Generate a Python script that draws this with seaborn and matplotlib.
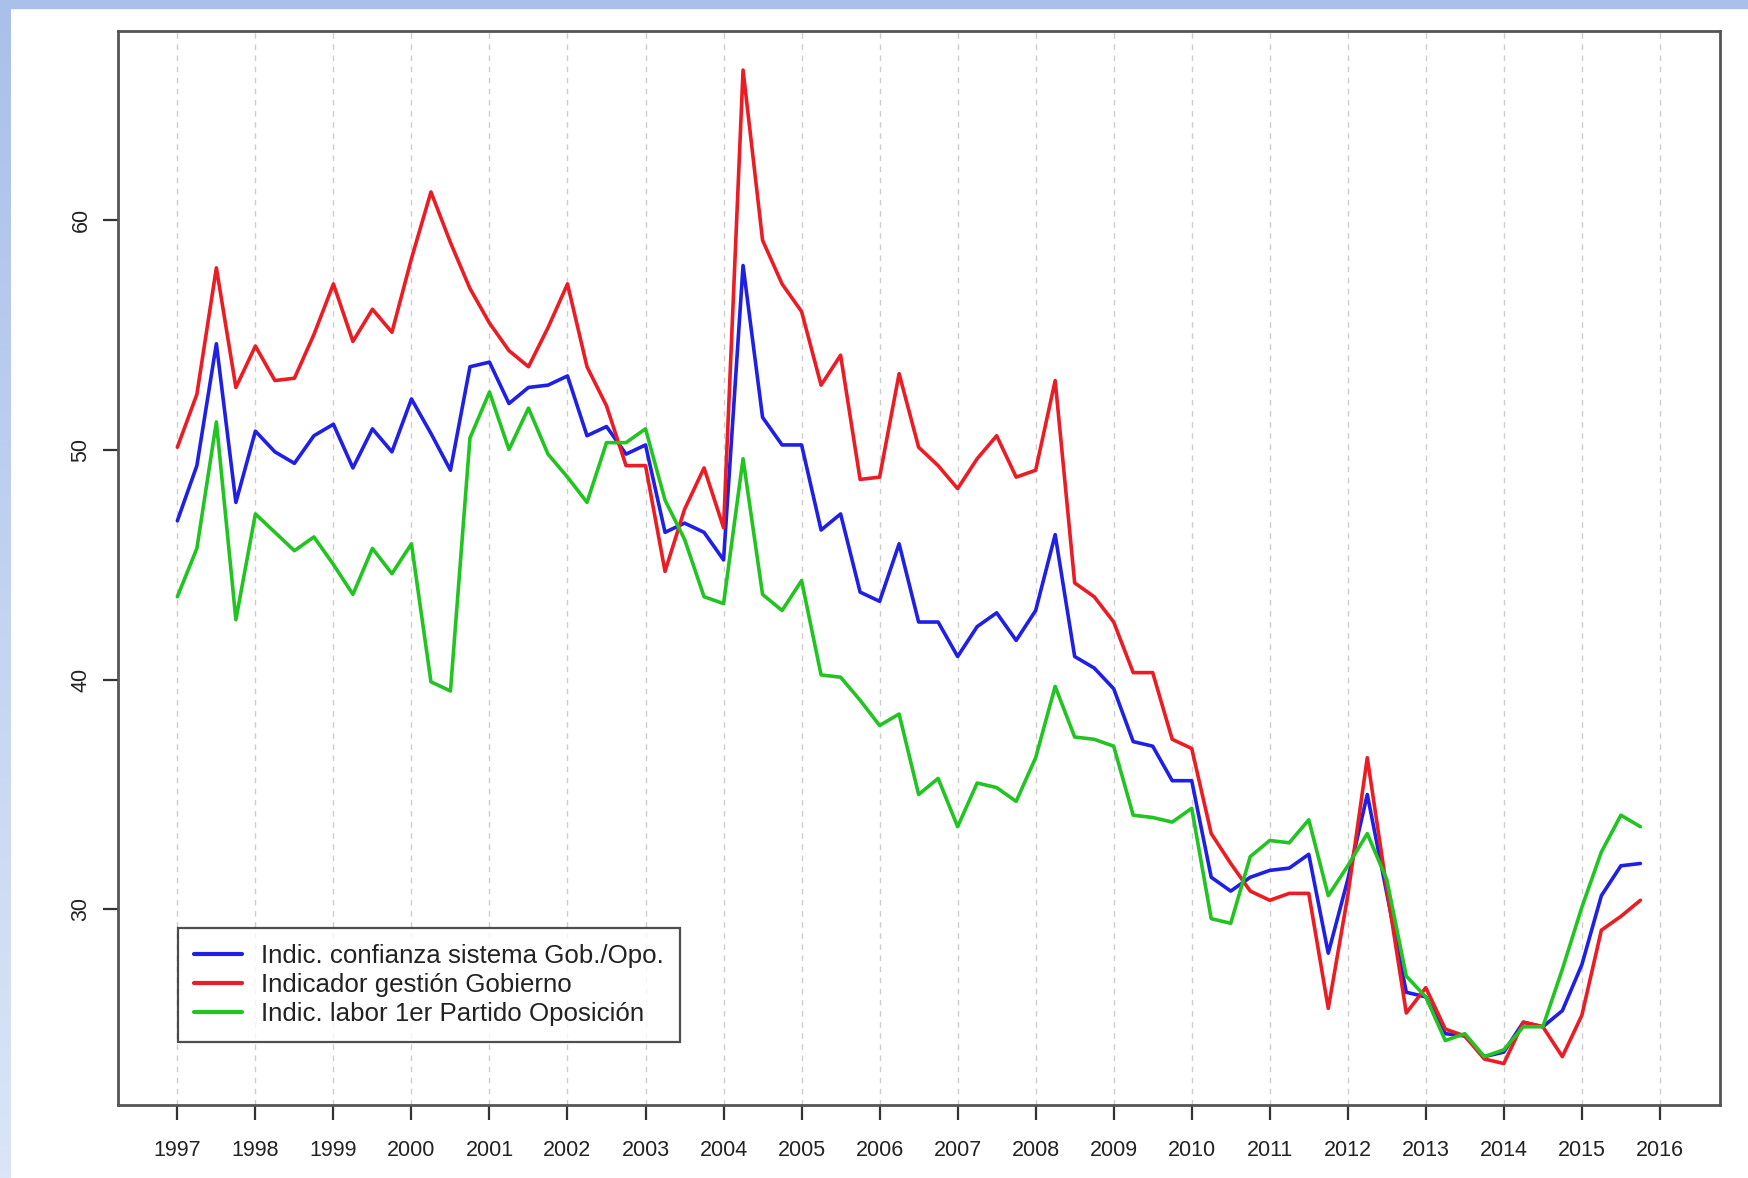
import numpy as np
import pandas as pd
import seaborn as sns
import matplotlib.pyplot as plt
from matplotlib.patches import Rectangle

# =========================
#       DATA (quarterly, 1997 Q1 - 2015 Q4)
# =========================
year_ticks = list(range(1997, 2017))
y_ticks = [30, 40, 50, 60]

confianza = [46.9, 49.3, 54.6, 47.7, 50.8, 49.9, 49.4, 50.6, 51.1, 49.2, 50.9, 49.9,
             52.2, 50.7, 49.1, 53.6, 53.8, 52.0, 52.7, 52.8, 53.2, 50.6, 51.0, 49.8,
             50.2, 46.4, 46.8, 46.4, 45.2, 58.0, 51.4, 50.2, 50.2, 46.5, 47.2, 43.8,
             43.4, 45.9, 42.5, 42.5, 41.0, 42.3, 42.9, 41.7, 43.0, 46.3, 41.0, 40.5,
             39.6, 37.3, 37.1, 35.6, 35.6, 31.4, 30.8, 31.4, 31.7, 31.8, 32.4, 28.1,
             31.3, 35.0, 30.7, 26.4, 26.2, 24.6, 24.5, 23.6, 23.8, 25.1, 24.9, 25.6,
             27.6, 30.6, 31.9, 32.0]

gestion = [50.1, 52.4, 57.9, 52.7, 54.5, 53.0, 53.1, 55.0, 57.2, 54.7, 56.1, 55.1,
           58.3, 61.2, 59.0, 57.0, 55.5, 54.3, 53.6, 55.3, 57.2, 53.6, 51.9, 49.3,
           49.3, 44.7, 47.4, 49.2, 46.6, 66.5, 59.1, 57.2, 56.0, 52.8, 54.1, 48.7,
           48.8, 53.3, 50.1, 49.3, 48.3, 49.6, 50.6, 48.8, 49.1, 53.0, 44.2, 43.6,
           42.5, 40.3, 40.3, 37.4, 37.0, 33.3, 32.0, 30.8, 30.4, 30.7, 30.7, 25.7,
           30.6, 36.6, 30.9, 25.5, 26.6, 24.8, 24.5, 23.5, 23.3, 25.1, 24.9, 23.6,
           25.4, 29.1, 29.7, 30.4]

oposicion = [43.6, 45.7, 51.2, 42.6, 47.2, 46.4, 45.6, 46.2, 45.0, 43.7, 45.7, 44.6,
             45.9, 39.9, 39.5, 50.5, 52.5, 50.0, 51.8, 49.8, 48.8, 47.7, 50.3, 50.3,
             50.9, 47.8, 46.1, 43.6, 43.3, 49.6, 43.7, 43.0, 44.3, 40.2, 40.1, 39.1,
             38.0, 38.5, 35.0, 35.7, 33.6, 35.5, 35.3, 34.7, 36.6, 39.7, 37.5, 37.4,
             37.1, 34.1, 34.0, 33.8, 34.4, 29.6, 29.4, 32.3, 33.0, 32.9, 33.9, 30.6,
             31.9, 33.3, 31.3, 27.1, 26.2, 24.3, 24.6, 23.6, 23.9, 24.9, 24.9, 27.4,
             30.1, 32.5, 34.1, 33.6]

labels = ["Indic. confianza sistema Gob./Opo.",
          "Indicador gestión Gobierno",
          "Indic. labor 1er Partido Oposición"]
colors = ["#1f1fe6", "#ec1c24", "#22c422"]

# time axis: one point per quarter
t = 1997 + np.arange(len(confianza)) / 4.0

df = pd.concat([
    pd.DataFrame({"t": t, "valor": confianza, "serie": labels[0]}),
    pd.DataFrame({"t": t, "valor": gestion, "serie": labels[1]}),
    pd.DataFrame({"t": t, "valor": oposicion, "serie": labels[2]}),
])

# =========================
#       FIGURE
# =========================
sns.set_style("white")
plt.rcParams["font.family"] = ["Liberation Sans", "DejaVu Sans"]

fig = plt.figure(figsize=(17.49, 11.78), dpi=100)
fig.patch.set_facecolor("white")

# light blue frame of the original slide
fig.add_artist(Rectangle((0, 1 - 8 / 1178), 1, 8 / 1178, transform=fig.transFigure,
                         color="#a9c0ea", zorder=0))
band = fig.add_axes([0, 0, 11 / 1749, 1])
grad = np.linspace(0, 1, 256)[:, None]
band.imshow(grad, aspect="auto", cmap=sns.blend_palette(["#a9c0ea", "#dbe5f7"], as_cmap=True))
band.axis("off")

ax = fig.add_axes([0.0675, 0.062, 0.9159, 0.9117])

for x in year_ticks:
    ax.axvline(x, color="#cdcdcd", lw=1.0, ls=(0, (4, 4)), zorder=0)

sns.lineplot(data=df, x="t", y="valor", hue="serie", hue_order=labels,
             palette=dict(zip(labels, colors)), lw=2.6, ax=ax)

ax.set_xlim(1996.24, 2016.77)
ax.set_ylim(21.5, 68.2)
ax.set_xticks(year_ticks)
ax.set_xticklabels([str(y) for y in year_ticks])
ax.set_yticks(y_ticks)
ax.set_yticklabels([str(v) for v in y_ticks], rotation=90, va="center")
ax.set_xlabel("")
ax.set_ylabel("")

for s in ax.spines.values():
    s.set_color("#555555")
    s.set_linewidth(2)
ax.tick_params(axis="both", direction="out", length=11, width=1.6, color="#333333",
               labelsize=15.5, labelcolor="#222222", bottom=True, left=True)
ax.tick_params(axis="x", pad=14)
ax.tick_params(axis="y", pad=8)

leg = ax.legend(loc="lower left", bbox_to_anchor=(0.0375, 0.0587), borderaxespad=0,
                fontsize=18.6, frameon=True, fancybox=False, handlelength=1.86,
                handletextpad=0.74, labelspacing=0.19, borderpad=0.62)
leg.get_frame().set_edgecolor("#222222")
leg.get_frame().set_linewidth(1.6)
for line in leg.get_lines():
    line.set_linewidth(3)
for txt in leg.get_texts():
    txt.set_color("#222222")

fig.savefig("out.png", dpi=100)
